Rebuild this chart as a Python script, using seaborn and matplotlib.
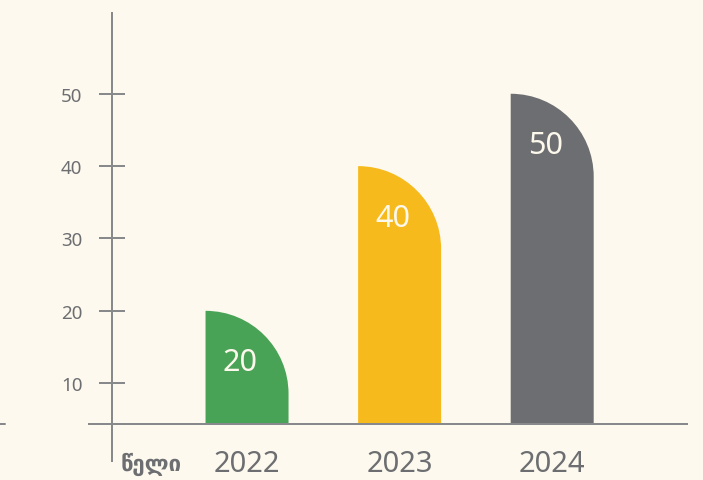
import matplotlib
matplotlib.use("Agg")
import matplotlib.pyplot as plt
import seaborn as sns
import pandas as pd
from matplotlib.path import Path
from matplotlib.patches import PathPatch
from matplotlib.lines import Line2D

years = ["2022", "2023", "2024"]
values = [20, 40, 50]
bar_colors = ["#49a357", "#f6ba1c", "#6d6e71"]
yticks = [10, 20, 30, 40, 50]
axis_label = "წელი"

BG = "#fdf9ee"
AXC = "#88898b"
TXT = "#6d6e71"

sns.set_theme(style="white")
plt.rcParams["font.family"] = ["Noto Sans", "DejaVu Sans"]

fig = plt.figure(figsize=(7.03, 4.81), dpi=100, facecolor=BG)
W, H = 703, 481
ax = fig.add_axes([112 / W, (H - 425) / H, 576 / W, 412 / H])
ax.set_facecolor(BG)

df = pd.DataFrame({"year": years, "value": values})
sns.barplot(data=df, x="year", y="value", hue="year", palette=bar_colors,
            dodge=False, legend=False, width=0.544, ax=ax, saturation=1)

ax.set_xlim(-0.885, 2.89)
ax.set_ylim(4.36, 61.3)

# px per data unit
p0 = ax.transData.transform((0, 0))
px_x = ax.transData.transform((1, 0))[0] - p0[0]
px_y = ax.transData.transform((0, 1))[1] - p0[1]

k = 0.5523
for rect, v in zip(list(ax.patches), values):
    x0 = rect.get_x()
    w = rect.get_width()
    y0 = rect.get_y()
    y1 = y0 + rect.get_height()
    x1 = x0 + w
    rx = w
    ry = w * px_x / px_y
    cy = y1 - ry
    verts = [(x0, y0), (x0, y1),
             (x0 + k * rx, y1), (x1, cy + k * ry), (x1, cy),
             (x1, y0), (x0, y0)]
    codes = [Path.MOVETO, Path.LINETO,
             Path.CURVE4, Path.CURVE4, Path.CURVE4,
             Path.LINETO, Path.CLOSEPOLY]
    pp = PathPatch(Path(verts, codes), facecolor=rect.get_facecolor(),
                   edgecolor="none", linewidth=0)
    rect.set_visible(False)
    ax.add_patch(pp)
    ax.annotate(str(v), xy=(x0 + w / 2, y1), xytext=(-5, -37),
                textcoords="offset points", ha="center", va="center",
                fontsize=22, color="#fdf8ec")

for s in ax.spines.values():
    s.set_visible(False)

ax.set_yticks(yticks)
ax.set_yticklabels([str(t) for t in yticks])
ax.tick_params(axis="y", direction="inout", length=18.7, width=1.44,
               color=AXC, labelcolor=TXT, labelsize=13.5, pad=12, left=True)
ax.tick_params(axis="x", length=0, labelcolor=TXT, labelsize=21, pad=18)
ax.set_xlabel("")
ax.set_ylabel("")

ax.plot([0, 0], [-0.092, 1.0], transform=ax.transAxes, color=AXC,
        lw=1.44, clip_on=False, solid_capstyle="butt")
ax.plot([-0.0417, 1.0], [0, 0], transform=ax.transAxes, color=AXC,
        lw=1.44, clip_on=False, solid_capstyle="butt")

fig.add_artist(Line2D([0, 5 / W], [(H - 425) / H] * 2, color=AXC, lw=1.44))

fig.text(121 / W, (H - 471) / H, axis_label, ha="left", va="baseline",
         fontsize=16, fontweight="bold", color=TXT,
         family=["DejaVu Sans"])

fig.savefig("out.png", dpi=100, facecolor=BG)
